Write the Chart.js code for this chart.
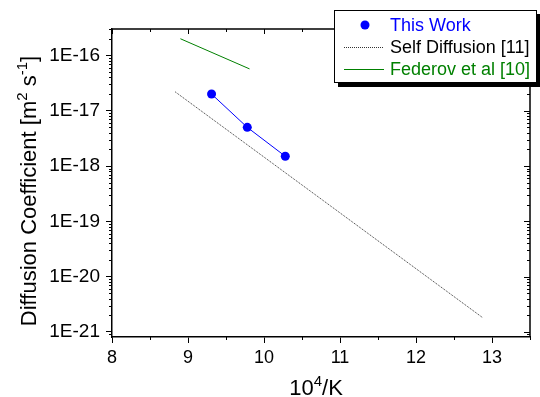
<!DOCTYPE html>
<html>
<head>
<meta charset="utf-8">
<script src="https://cdn.jsdelivr.net/npm/chart.js@4/dist/chart.umd.min.js"></script>
<style>
    html, body { margin: 0; padding: 0; background: #fff; }
    #wrap { width: 540px; height: 397px; }
</style>
</head>
<body>
<div id="wrap"><canvas id="chart" width="540" height="397"></canvas></div>
<script>
const FONT = "'Liberation Sans', Arial, sans-serif";

// axis ticks
const xTicks = [8, 9, 10, 11, 12, 13];
const xMinorTicks = [8.5, 9.5, 10.5, 11.5, 12.5, 13.5];
const yDecades = [-21, -20, -19, -18, -17, -16];
const yMin = 8.1e-22;
const yMax = 3.0e-16;

// series
const thisWorkX = [9.31, 9.78, 10.28];
const thisWorkY = [2.0e-17, 5.0e-18, 1.5e-18];
const selfDiffX = [8.83, 12.88];
const selfDiffY = [2.2e-17, 1.8e-21];
const federovX = [8.9, 9.81];
const federovY = [2.0e-16, 5.7e-17];
const seriesLabels = ["This Work", "Self Diffusion [11]", "Federov et al [10]"];

const toPoints = (xs, ys) => xs.map((x, i) => ({ x: x, y: ys[i] }));

// minor ticks on the log axis: 2..9 of each decade inside the range
const yMinorTicks = [];
for (let d = -22; d <= -16; d++) {
    for (let k = 2; k <= 9; k++) {
        const v = k * Math.pow(10, d);
        if (v >= yMin && v <= yMax) yMinorTicks.push(v);
    }
}

// frame, minor ticks, axis titles and the boxed legend
const decorPlugin = {
    id: "decor",
    afterDraw(chart) {
        const ctx = chart.ctx;
        const a = chart.chartArea;
        const xs = chart.scales.x;
        const ys = chart.scales.y;
        ctx.save();
        ctx.strokeStyle = "#000";

        // top and right axis lines
        ctx.lineWidth = 1.5;
        ctx.beginPath();
        ctx.moveTo(a.left, a.top);
        ctx.lineTo(a.right, a.top);
        ctx.lineTo(a.right, a.bottom);
        ctx.stroke();

        ctx.lineWidth = 1;
        ctx.beginPath();
        // x: minor ticks bottom (out), all ticks top (in)
        xMinorTicks.forEach(v => {
            const px = Math.round(xs.getPixelForValue(v)) + 0.5;
            ctx.moveTo(px, a.bottom); ctx.lineTo(px, a.bottom + 3);
            ctx.moveTo(px, a.top); ctx.lineTo(px, a.top + 3);
        });
        xTicks.forEach(v => {
            const px = Math.round(xs.getPixelForValue(v)) + 0.5;
            ctx.moveTo(px, a.top); ctx.lineTo(px, a.top + 5);
        });
        // y: minor ticks left (out), all ticks right (in)
        yMinorTicks.forEach(v => {
            const py = Math.round(ys.getPixelForValue(v)) + 0.5;
            ctx.moveTo(a.left, py); ctx.lineTo(a.left - 3, py);
            ctx.moveTo(a.right, py); ctx.lineTo(a.right - 3, py);
        });
        yDecades.forEach(d => {
            const py = Math.round(ys.getPixelForValue(Math.pow(10, d))) + 0.5;
            ctx.moveTo(a.right, py); ctx.lineTo(a.right - 6, py);
        });
        ctx.stroke();

        // axis titles with superscripts
        ctx.fillStyle = "#000";
        ctx.textBaseline = "alphabetic";
        const parts = (list) => list.map(p => {
            ctx.font = (p.sup ? "15px " : "22px ") + FONT;
            return Object.assign({ w: ctx.measureText(p.t).width }, p);
        });
        const drawParts = (list, x0, y0) => {
            let x = x0;
            list.forEach(p => {
                ctx.font = (p.sup ? "15px " : "22px ") + FONT;
                ctx.fillText(p.t, x, y0 - (p.sup ? 9 : 0));
                x += p.w;
            });
        };

        const xt = parts([{ t: "10" }, { t: "4", sup: true }, { t: "/K" }]);
        const xw = xt.reduce((s, p) => s + p.w, 0);
        drawParts(xt, 316 - xw / 2, 395);

        const yt = parts([{ t: "Diffusion Coefficient [m" }, { t: "2", sup: true },
                          { t: " s" }, { t: "-1", sup: true }, { t: "]" }]);
        const yw = yt.reduce((s, p) => s + p.w, 0);
        ctx.save();
        ctx.translate(36, (a.top + a.bottom) / 2 + yw / 2 + 8);
        ctx.rotate(-Math.PI / 2);
        drawParts(yt, 0, 0);
        ctx.restore();

        // legend box with shadow
        const bx = 334, by = 10, bw = 202, bh = 72;
        ctx.fillStyle = "#000";
        ctx.fillRect(bx + 4, by + bh, bw + 4, 5);
        ctx.fillRect(bx + bw, by + 4, 4, bh);
        ctx.fillStyle = "#fff";
        ctx.fillRect(bx, by, bw, bh);
        ctx.lineWidth = 1;
        ctx.strokeStyle = "#000";
        ctx.strokeRect(bx + 0.5, by + 0.5, bw, bh);

        const rows = [25, 47, 69];
        const sets = chart.data.datasets;
        ctx.font = "18px " + FONT;
        ctx.textBaseline = "middle";
        sets.forEach((ds, i) => {
            const cy = rows[i];
            if (ds.pointRadius > 0) {
                ctx.fillStyle = ds.pointBackgroundColor;
                ctx.beginPath();
                ctx.arc(365, cy, 4.5, 0, Math.PI * 2);
                ctx.fill();
            } else {
                ctx.strokeStyle = ds.borderColor;
                ctx.lineWidth = 1;
                ctx.setLineDash(ds.borderDash || []);
                ctx.beginPath();
                ctx.moveTo(344, cy + 0.5);
                ctx.lineTo(384, cy + 0.5);
                ctx.stroke();
                ctx.setLineDash([]);
            }
            ctx.fillStyle = ds.legendColor;
            ctx.fillText(ds.label, 390, cy + 1);
        });
        ctx.restore();
    }
};

new Chart(document.getElementById("chart"), {
    type: "scatter",
    data: {
        datasets: [
            {
                label: seriesLabels[0],
                data: toPoints(thisWorkX, thisWorkY),
                showLine: true,
                borderColor: "#0000ff",
                borderWidth: 1,
                pointRadius: 4.5,
                pointBackgroundColor: "#0000ff",
                pointBorderWidth: 0,
                legendColor: "#0000ff"
            },
            {
                label: seriesLabels[1],
                data: toPoints(selfDiffX, selfDiffY),
                showLine: true,
                borderColor: "#333",
                borderWidth: 1,
                borderDash: [1, 1],
                pointRadius: 0,
                legendColor: "#000"
            },
            {
                label: seriesLabels[2],
                data: toPoints(federovX, federovY),
                showLine: true,
                borderColor: "#008000",
                borderWidth: 1,
                pointRadius: 0,
                legendColor: "#008000"
            }
        ]
    },
    options: {
        responsive: false,
        animation: false,
        devicePixelRatio: 1,
        layout: { padding: { top: 29, right: 10, left: 0, bottom: 0 } },
        plugins: {
            legend: { display: false },
            tooltip: { enabled: false }
        },
        scales: {
            x: {
                type: "linear",
                min: 8,
                max: 13.5,
                afterBuildTicks: s => { s.ticks = xTicks.map(v => ({ value: v })); },
                afterFit: s => { s.height = 60; },
                ticks: { color: "#000", font: { family: FONT, size: 18 }, padding: 4, maxRotation: 0 },
                grid: { drawOnChartArea: false, tickLength: 6, color: "#000" },
                border: { color: "#000", width: 1.5 }
            },
            y: {
                type: "logarithmic",
                min: yMin,
                max: yMax,
                afterBuildTicks: s => { s.ticks = yDecades.map(d => ({ value: Math.pow(10, d) })); },
                afterFit: s => { s.width = 112; },
                ticks: {
                    color: "#000",
                    font: { family: FONT, size: 19 },
                    padding: 6,
                    callback: v => "1E" + Math.round(Math.log10(v))
                },
                grid: { drawOnChartArea: false, tickLength: 6, color: "#000" },
                border: { color: "#000", width: 1.5 }
            }
        }
    },
    plugins: [decorPlugin]
});
</script>
</body>
</html>
